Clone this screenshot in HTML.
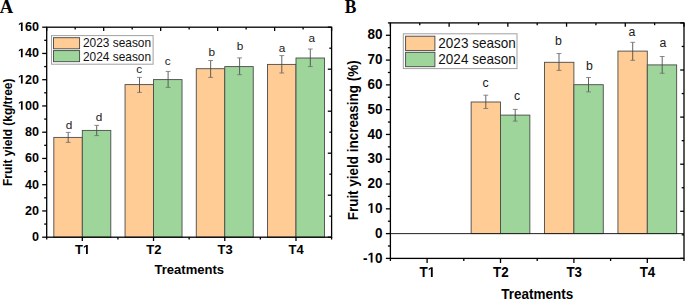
<!DOCTYPE html><html><head><meta charset="utf-8"><style>html,body{margin:0;padding:0;background:#fff;width:685px;height:300px;overflow:hidden}svg{display:block}</style></head><body>
<svg width="685" height="300" viewBox="0 0 685 300">
<rect width="685" height="300" fill="#fff"/>
<rect x="53.82" y="137.4" width="28.49" height="99.8" fill="#FECC94" stroke="#4a4a4a" stroke-width="0.9"/>
<rect x="82.31" y="130.4" width="28.49" height="106.8" fill="#9DD59B" stroke="#4a4a4a" stroke-width="0.9"/>
<rect x="125.05" y="84.6" width="28.49" height="152.6" fill="#FECC94" stroke="#4a4a4a" stroke-width="0.9"/>
<rect x="153.54" y="79.6" width="28.49" height="157.6" fill="#9DD59B" stroke="#4a4a4a" stroke-width="0.9"/>
<rect x="196.27" y="68.7" width="28.49" height="168.5" fill="#FECC94" stroke="#4a4a4a" stroke-width="0.9"/>
<rect x="224.76" y="66.6" width="28.49" height="170.6" fill="#9DD59B" stroke="#4a4a4a" stroke-width="0.9"/>
<rect x="267.5" y="64.4" width="28.49" height="172.8" fill="#FECC94" stroke="#4a4a4a" stroke-width="0.9"/>
<rect x="295.99" y="58" width="28.49" height="179.2" fill="#9DD59B" stroke="#4a4a4a" stroke-width="0.9"/>
<line x1="68.2" y1="132.4" x2="68.2" y2="142.4" stroke="#484848" stroke-width="0.85"/>
<line x1="65.8" y1="132.4" x2="70.6" y2="132.4" stroke="#6e6e6e" stroke-width="0.8"/>
<line x1="65.8" y1="142.4" x2="70.6" y2="142.4" stroke="#6e6e6e" stroke-width="0.8"/>
<line x1="96.7" y1="125.4" x2="96.7" y2="135.6" stroke="#484848" stroke-width="0.85"/>
<line x1="94.3" y1="125.4" x2="99.1" y2="125.4" stroke="#6e6e6e" stroke-width="0.8"/>
<line x1="94.3" y1="135.6" x2="99.1" y2="135.6" stroke="#6e6e6e" stroke-width="0.8"/>
<line x1="139.5" y1="77.4" x2="139.5" y2="92.4" stroke="#484848" stroke-width="0.85"/>
<line x1="137.1" y1="77.4" x2="141.9" y2="77.4" stroke="#6e6e6e" stroke-width="0.8"/>
<line x1="137.1" y1="92.4" x2="141.9" y2="92.4" stroke="#6e6e6e" stroke-width="0.8"/>
<line x1="168.1" y1="71.4" x2="168.1" y2="87.4" stroke="#484848" stroke-width="0.85"/>
<line x1="165.7" y1="71.4" x2="170.5" y2="71.4" stroke="#6e6e6e" stroke-width="0.8"/>
<line x1="165.7" y1="87.4" x2="170.5" y2="87.4" stroke="#6e6e6e" stroke-width="0.8"/>
<line x1="210.65" y1="60.5" x2="210.65" y2="77.4" stroke="#484848" stroke-width="0.85"/>
<line x1="208.25" y1="60.5" x2="213.05" y2="60.5" stroke="#6e6e6e" stroke-width="0.8"/>
<line x1="208.25" y1="77.4" x2="213.05" y2="77.4" stroke="#6e6e6e" stroke-width="0.8"/>
<line x1="239.6" y1="57.9" x2="239.6" y2="74.7" stroke="#484848" stroke-width="0.85"/>
<line x1="237.2" y1="57.9" x2="242" y2="57.9" stroke="#6e6e6e" stroke-width="0.8"/>
<line x1="237.2" y1="74.7" x2="242" y2="74.7" stroke="#6e6e6e" stroke-width="0.8"/>
<line x1="281.8" y1="55.6" x2="281.8" y2="73" stroke="#484848" stroke-width="0.85"/>
<line x1="279.4" y1="55.6" x2="284.2" y2="55.6" stroke="#6e6e6e" stroke-width="0.8"/>
<line x1="279.4" y1="73" x2="284.2" y2="73" stroke="#6e6e6e" stroke-width="0.8"/>
<line x1="310.3" y1="49" x2="310.3" y2="66.6" stroke="#484848" stroke-width="0.85"/>
<line x1="307.9" y1="49" x2="312.7" y2="49" stroke="#6e6e6e" stroke-width="0.8"/>
<line x1="307.9" y1="66.6" x2="312.7" y2="66.6" stroke="#6e6e6e" stroke-width="0.8"/>
<text x="65.65" y="128.9" font-family="Liberation Sans" font-size="11.8" font-weight="normal" fill="#1a1a1a">d</text>
<text x="95.75" y="121" font-family="Liberation Sans" font-size="11.8" font-weight="normal" fill="#1a1a1a">d</text>
<text x="136.16" y="73.1" font-family="Liberation Sans" font-size="11.8" font-weight="normal" fill="#1a1a1a">c</text>
<text x="164.66" y="65.1" font-family="Liberation Sans" font-size="11.8" font-weight="normal" fill="#1a1a1a">c</text>
<text x="208.39" y="55.8" font-family="Liberation Sans" font-size="11.8" font-weight="normal" fill="#1a1a1a">b</text>
<text x="236.69" y="49.8" font-family="Liberation Sans" font-size="11.8" font-weight="normal" fill="#1a1a1a">b</text>
<text x="278.77" y="51.8" font-family="Liberation Sans" font-size="11.8" font-weight="normal" fill="#1a1a1a">a</text>
<text x="308.47" y="42" font-family="Liberation Sans" font-size="11.8" font-weight="normal" fill="#1a1a1a">a</text>
<rect x="46.7" y="27.2" width="284.9" height="210" fill="none" stroke="#000" stroke-width="1.3"/>
<line x1="42.2" y1="237.2" x2="46.7" y2="237.2" stroke="#000" stroke-width="1.3"/>
<text x="32" y="241.05" font-family="Liberation Sans" font-size="12.6" font-weight="bold" fill="#000">0</text>
<line x1="44.2" y1="224.07" x2="46.7" y2="224.07" stroke="#000" stroke-width="1.3"/>
<line x1="42.2" y1="210.95" x2="46.7" y2="210.95" stroke="#000" stroke-width="1.3"/>
<text x="24.99" y="214.8" font-family="Liberation Sans" font-size="12.6" font-weight="bold" fill="#000">20</text>
<line x1="44.2" y1="197.82" x2="46.7" y2="197.82" stroke="#000" stroke-width="1.3"/>
<line x1="42.2" y1="184.7" x2="46.7" y2="184.7" stroke="#000" stroke-width="1.3"/>
<text x="24.99" y="188.55" font-family="Liberation Sans" font-size="12.6" font-weight="bold" fill="#000">40</text>
<line x1="44.2" y1="171.57" x2="46.7" y2="171.57" stroke="#000" stroke-width="1.3"/>
<line x1="42.2" y1="158.45" x2="46.7" y2="158.45" stroke="#000" stroke-width="1.3"/>
<text x="24.99" y="162.3" font-family="Liberation Sans" font-size="12.6" font-weight="bold" fill="#000">60</text>
<line x1="44.2" y1="145.32" x2="46.7" y2="145.32" stroke="#000" stroke-width="1.3"/>
<line x1="42.2" y1="132.2" x2="46.7" y2="132.2" stroke="#000" stroke-width="1.3"/>
<text x="24.99" y="136.05" font-family="Liberation Sans" font-size="12.6" font-weight="bold" fill="#000">80</text>
<line x1="44.2" y1="119.07" x2="46.7" y2="119.07" stroke="#000" stroke-width="1.3"/>
<line x1="42.2" y1="105.95" x2="46.7" y2="105.95" stroke="#000" stroke-width="1.3"/>
<path transform="translate(17.99,109.8) scale(0.00615,-0.00615)" d="M478 0L478 1170L140 959L140 1180L493 1409L759 1409L759 0Z" fill="#000"/>
<text x="17.99" y="109.8" font-family="Liberation Sans" font-size="12.6" font-weight="bold" fill="#000">&#8199;00</text>
<line x1="44.2" y1="92.82" x2="46.7" y2="92.82" stroke="#000" stroke-width="1.3"/>
<line x1="42.2" y1="79.7" x2="46.7" y2="79.7" stroke="#000" stroke-width="1.3"/>
<path transform="translate(17.99,83.55) scale(0.00615,-0.00615)" d="M478 0L478 1170L140 959L140 1180L493 1409L759 1409L759 0Z" fill="#000"/>
<text x="17.99" y="83.55" font-family="Liberation Sans" font-size="12.6" font-weight="bold" fill="#000">&#8199;20</text>
<line x1="44.2" y1="66.57" x2="46.7" y2="66.57" stroke="#000" stroke-width="1.3"/>
<line x1="42.2" y1="53.45" x2="46.7" y2="53.45" stroke="#000" stroke-width="1.3"/>
<path transform="translate(17.99,57.3) scale(0.00615,-0.00615)" d="M478 0L478 1170L140 959L140 1180L493 1409L759 1409L759 0Z" fill="#000"/>
<text x="17.99" y="57.3" font-family="Liberation Sans" font-size="12.6" font-weight="bold" fill="#000">&#8199;40</text>
<line x1="44.2" y1="40.32" x2="46.7" y2="40.32" stroke="#000" stroke-width="1.3"/>
<line x1="42.2" y1="27.2" x2="46.7" y2="27.2" stroke="#000" stroke-width="1.3"/>
<path transform="translate(17.99,31.05) scale(0.00615,-0.00615)" d="M478 0L478 1170L140 959L140 1180L493 1409L759 1409L759 0Z" fill="#000"/>
<text x="17.99" y="31.05" font-family="Liberation Sans" font-size="12.6" font-weight="bold" fill="#000">&#8199;60</text>
<line x1="82.31" y1="237.2" x2="82.31" y2="241" stroke="#000" stroke-width="1.3"/>
<path transform="translate(82.98,254) scale(0.00635,-0.00635)" d="M478 0L478 1170L140 959L140 1180L493 1409L759 1409L759 0Z" fill="#000"/>
<text x="75.04" y="254" font-family="Liberation Sans" font-size="13" font-weight="bold" fill="#000">T&#8199;</text>
<line x1="153.54" y1="237.2" x2="153.54" y2="241" stroke="#000" stroke-width="1.3"/>
<text x="146.34" y="254" font-family="Liberation Sans" font-size="13" font-weight="bold" fill="#000">T2</text>
<line x1="224.76" y1="237.2" x2="224.76" y2="241" stroke="#000" stroke-width="1.3"/>
<text x="217.54" y="254" font-family="Liberation Sans" font-size="13" font-weight="bold" fill="#000">T3</text>
<line x1="295.99" y1="237.2" x2="295.99" y2="241" stroke="#000" stroke-width="1.3"/>
<text x="288.57" y="254" font-family="Liberation Sans" font-size="13" font-weight="bold" fill="#000">T4</text>
<line x1="46.7" y1="237.2" x2="46.7" y2="239.5" stroke="#000" stroke-width="1.3"/>
<line x1="117.93" y1="237.2" x2="117.93" y2="239.5" stroke="#000" stroke-width="1.3"/>
<line x1="189.15" y1="237.2" x2="189.15" y2="239.5" stroke="#000" stroke-width="1.3"/>
<line x1="260.38" y1="237.2" x2="260.38" y2="239.5" stroke="#000" stroke-width="1.3"/>
<line x1="331.6" y1="237.2" x2="331.6" y2="239.5" stroke="#000" stroke-width="1.3"/>
<line x1="46.7" y1="27.2" x2="46.7" y2="31" stroke="#000" stroke-width="1.3"/>
<line x1="75.19" y1="27.2" x2="75.19" y2="29.5" stroke="#000" stroke-width="1.3"/>
<line x1="103.68" y1="27.2" x2="103.68" y2="31" stroke="#000" stroke-width="1.3"/>
<line x1="132.17" y1="27.2" x2="132.17" y2="29.5" stroke="#000" stroke-width="1.3"/>
<line x1="160.66" y1="27.2" x2="160.66" y2="31" stroke="#000" stroke-width="1.3"/>
<line x1="189.15" y1="27.2" x2="189.15" y2="29.5" stroke="#000" stroke-width="1.3"/>
<line x1="217.64" y1="27.2" x2="217.64" y2="31" stroke="#000" stroke-width="1.3"/>
<line x1="246.13" y1="27.2" x2="246.13" y2="29.5" stroke="#000" stroke-width="1.3"/>
<line x1="274.62" y1="27.2" x2="274.62" y2="31" stroke="#000" stroke-width="1.3"/>
<line x1="303.11" y1="27.2" x2="303.11" y2="29.5" stroke="#000" stroke-width="1.3"/>
<line x1="331.6" y1="27.2" x2="331.6" y2="31" stroke="#000" stroke-width="1.3"/>
<line x1="327.8" y1="27.2" x2="331.6" y2="27.2" stroke="#000" stroke-width="1.3"/>
<line x1="329.3" y1="48.2" x2="331.6" y2="48.2" stroke="#000" stroke-width="1.3"/>
<line x1="327.8" y1="69.2" x2="331.6" y2="69.2" stroke="#000" stroke-width="1.3"/>
<line x1="329.3" y1="90.2" x2="331.6" y2="90.2" stroke="#000" stroke-width="1.3"/>
<line x1="327.8" y1="111.2" x2="331.6" y2="111.2" stroke="#000" stroke-width="1.3"/>
<line x1="329.3" y1="132.2" x2="331.6" y2="132.2" stroke="#000" stroke-width="1.3"/>
<line x1="327.8" y1="153.2" x2="331.6" y2="153.2" stroke="#000" stroke-width="1.3"/>
<line x1="329.3" y1="174.2" x2="331.6" y2="174.2" stroke="#000" stroke-width="1.3"/>
<line x1="327.8" y1="195.2" x2="331.6" y2="195.2" stroke="#000" stroke-width="1.3"/>
<line x1="329.3" y1="216.2" x2="331.6" y2="216.2" stroke="#000" stroke-width="1.3"/>
<line x1="327.8" y1="237.2" x2="331.6" y2="237.2" stroke="#000" stroke-width="1.3"/>
<text x="154.54" y="273.7" font-family="Liberation Sans" font-size="13" font-weight="bold" fill="#000" textLength="69.57" lengthAdjust="spacingAndGlyphs">Treatments</text>
<text transform="translate(12.2,185.99) rotate(-90)" x="0" y="0" font-family="Liberation Sans" font-size="13.1" font-weight="bold" textLength="107.38" lengthAdjust="spacingAndGlyphs">Fruit yield (kg/tree)</text>
<rect x="51.5" y="35.6" width="101.6" height="28.6" fill="#fff" stroke="#a0a0a0" stroke-width="1"/>
<rect x="53.5" y="37.7" width="26.1" height="11.1" fill="#FECC94" stroke="#444" stroke-width="0.9"/>
<text x="83" y="47" font-family="Liberation Sans" font-size="11.9" font-weight="normal" fill="#111">2023 season</text>
<rect x="53.5" y="50.6" width="26.1" height="11.1" fill="#9DD59B" stroke="#444" stroke-width="0.9"/>
<text x="83" y="60.5" font-family="Liberation Sans" font-size="11.9" font-weight="normal" fill="#111">2024 season</text>
<rect x="471.14" y="102" width="29.36" height="131.61" fill="#FECC94" stroke="#4a4a4a" stroke-width="0.9"/>
<rect x="500.5" y="115.1" width="29.36" height="118.51" fill="#9DD59B" stroke="#4a4a4a" stroke-width="0.9"/>
<rect x="544.54" y="62.3" width="29.36" height="171.31" fill="#FECC94" stroke="#4a4a4a" stroke-width="0.9"/>
<rect x="573.9" y="84.7" width="29.36" height="148.91" fill="#9DD59B" stroke="#4a4a4a" stroke-width="0.9"/>
<rect x="617.94" y="51.1" width="29.36" height="182.51" fill="#FECC94" stroke="#4a4a4a" stroke-width="0.9"/>
<rect x="647.3" y="64.9" width="29.36" height="168.71" fill="#9DD59B" stroke="#4a4a4a" stroke-width="0.9"/>
<line x1="485.8" y1="95.2" x2="485.8" y2="108.5" stroke="#484848" stroke-width="0.85"/>
<line x1="483.4" y1="95.2" x2="488.2" y2="95.2" stroke="#6e6e6e" stroke-width="0.8"/>
<line x1="483.4" y1="108.5" x2="488.2" y2="108.5" stroke="#6e6e6e" stroke-width="0.8"/>
<line x1="515.2" y1="109.4" x2="515.2" y2="121.1" stroke="#484848" stroke-width="0.85"/>
<line x1="512.8" y1="109.4" x2="517.6" y2="109.4" stroke="#6e6e6e" stroke-width="0.8"/>
<line x1="512.8" y1="121.1" x2="517.6" y2="121.1" stroke="#6e6e6e" stroke-width="0.8"/>
<line x1="559" y1="53.5" x2="559" y2="70.4" stroke="#484848" stroke-width="0.85"/>
<line x1="556.6" y1="53.5" x2="561.4" y2="53.5" stroke="#6e6e6e" stroke-width="0.8"/>
<line x1="556.6" y1="70.4" x2="561.4" y2="70.4" stroke="#6e6e6e" stroke-width="0.8"/>
<line x1="588.5" y1="77.5" x2="588.5" y2="91.9" stroke="#484848" stroke-width="0.85"/>
<line x1="586.1" y1="77.5" x2="590.9" y2="77.5" stroke="#6e6e6e" stroke-width="0.8"/>
<line x1="586.1" y1="91.9" x2="590.9" y2="91.9" stroke="#6e6e6e" stroke-width="0.8"/>
<line x1="632.7" y1="42.3" x2="632.7" y2="60.3" stroke="#484848" stroke-width="0.85"/>
<line x1="630.3" y1="42.3" x2="635.1" y2="42.3" stroke="#6e6e6e" stroke-width="0.8"/>
<line x1="630.3" y1="60.3" x2="635.1" y2="60.3" stroke="#6e6e6e" stroke-width="0.8"/>
<line x1="662.2" y1="56.5" x2="662.2" y2="73.3" stroke="#484848" stroke-width="0.85"/>
<line x1="659.8" y1="56.5" x2="664.6" y2="56.5" stroke="#6e6e6e" stroke-width="0.8"/>
<line x1="659.8" y1="73.3" x2="664.6" y2="73.3" stroke="#6e6e6e" stroke-width="0.8"/>
<text x="482.43" y="87" font-family="Liberation Sans" font-size="12.3" font-weight="normal" fill="#1a1a1a">c</text>
<text x="513.93" y="99.9" font-family="Liberation Sans" font-size="12.3" font-weight="normal" fill="#1a1a1a">c</text>
<text x="555.05" y="44.8" font-family="Liberation Sans" font-size="12.3" font-weight="normal" fill="#1a1a1a">b</text>
<text x="586.05" y="69.6" font-family="Liberation Sans" font-size="12.3" font-weight="normal" fill="#1a1a1a">b</text>
<text x="628.42" y="35.8" font-family="Liberation Sans" font-size="12.3" font-weight="normal" fill="#1a1a1a">a</text>
<text x="659.62" y="46.5" font-family="Liberation Sans" font-size="12.3" font-weight="normal" fill="#1a1a1a">a</text>
<line x1="390.4" y1="233.61" x2="684" y2="233.61" stroke="#222" stroke-width="1"/>
<rect x="390.4" y="22.9" width="293.6" height="235.5" fill="none" stroke="#000" stroke-width="1.3"/>
<line x1="385.9" y1="258.4" x2="390.4" y2="258.4" stroke="#000" stroke-width="1.3"/>
<path transform="translate(367.53,262.5) scale(0.00659,-0.00693)" d="M478 0L478 1170L140 959L140 1180L493 1409L759 1409L759 0Z" fill="#000"/>
<text x="363.03" y="262.5" font-family="Liberation Sans" font-size="14.2" font-weight="bold" fill="#000" textLength="19.5" lengthAdjust="spacingAndGlyphs">-&#8199;0</text>
<line x1="387.9" y1="246.01" x2="390.4" y2="246.01" stroke="#000" stroke-width="1.3"/>
<line x1="385.9" y1="233.61" x2="390.4" y2="233.61" stroke="#000" stroke-width="1.3"/>
<text x="375.04" y="237.71" font-family="Liberation Sans" font-size="14.2" font-weight="bold" fill="#000" textLength="7.5" lengthAdjust="spacingAndGlyphs">0</text>
<line x1="387.9" y1="221.22" x2="390.4" y2="221.22" stroke="#000" stroke-width="1.3"/>
<line x1="385.9" y1="208.82" x2="390.4" y2="208.82" stroke="#000" stroke-width="1.3"/>
<path transform="translate(367.54,212.92) scale(0.00659,-0.00693)" d="M478 0L478 1170L140 959L140 1180L493 1409L759 1409L759 0Z" fill="#000"/>
<text x="367.54" y="212.92" font-family="Liberation Sans" font-size="14.2" font-weight="bold" fill="#000" textLength="15.01" lengthAdjust="spacingAndGlyphs">&#8199;0</text>
<line x1="387.9" y1="196.43" x2="390.4" y2="196.43" stroke="#000" stroke-width="1.3"/>
<line x1="385.9" y1="184.03" x2="390.4" y2="184.03" stroke="#000" stroke-width="1.3"/>
<text x="367.54" y="188.13" font-family="Liberation Sans" font-size="14.2" font-weight="bold" fill="#000" textLength="15.01" lengthAdjust="spacingAndGlyphs">20</text>
<line x1="387.9" y1="171.64" x2="390.4" y2="171.64" stroke="#000" stroke-width="1.3"/>
<line x1="385.9" y1="159.24" x2="390.4" y2="159.24" stroke="#000" stroke-width="1.3"/>
<text x="367.54" y="163.34" font-family="Liberation Sans" font-size="14.2" font-weight="bold" fill="#000" textLength="15.01" lengthAdjust="spacingAndGlyphs">30</text>
<line x1="387.9" y1="146.85" x2="390.4" y2="146.85" stroke="#000" stroke-width="1.3"/>
<line x1="385.9" y1="134.45" x2="390.4" y2="134.45" stroke="#000" stroke-width="1.3"/>
<text x="367.54" y="138.55" font-family="Liberation Sans" font-size="14.2" font-weight="bold" fill="#000" textLength="15.01" lengthAdjust="spacingAndGlyphs">40</text>
<line x1="387.9" y1="122.06" x2="390.4" y2="122.06" stroke="#000" stroke-width="1.3"/>
<line x1="385.9" y1="109.66" x2="390.4" y2="109.66" stroke="#000" stroke-width="1.3"/>
<text x="367.54" y="113.76" font-family="Liberation Sans" font-size="14.2" font-weight="bold" fill="#000" textLength="15.01" lengthAdjust="spacingAndGlyphs">50</text>
<line x1="387.9" y1="97.27" x2="390.4" y2="97.27" stroke="#000" stroke-width="1.3"/>
<line x1="385.9" y1="84.87" x2="390.4" y2="84.87" stroke="#000" stroke-width="1.3"/>
<text x="367.54" y="88.97" font-family="Liberation Sans" font-size="14.2" font-weight="bold" fill="#000" textLength="15.01" lengthAdjust="spacingAndGlyphs">60</text>
<line x1="387.9" y1="72.48" x2="390.4" y2="72.48" stroke="#000" stroke-width="1.3"/>
<line x1="385.9" y1="60.08" x2="390.4" y2="60.08" stroke="#000" stroke-width="1.3"/>
<text x="367.54" y="64.18" font-family="Liberation Sans" font-size="14.2" font-weight="bold" fill="#000" textLength="15.01" lengthAdjust="spacingAndGlyphs">70</text>
<line x1="387.9" y1="47.69" x2="390.4" y2="47.69" stroke="#000" stroke-width="1.3"/>
<line x1="385.9" y1="35.29" x2="390.4" y2="35.29" stroke="#000" stroke-width="1.3"/>
<text x="367.54" y="39.39" font-family="Liberation Sans" font-size="14.2" font-weight="bold" fill="#000" textLength="15.01" lengthAdjust="spacingAndGlyphs">80</text>
<line x1="387.9" y1="22.9" x2="390.4" y2="22.9" stroke="#000" stroke-width="1.3"/>
<line x1="427.1" y1="258.4" x2="427.1" y2="263" stroke="#000" stroke-width="1.3"/>
<path transform="translate(427.78,276.9) scale(0.00652,-0.00693)" d="M478 0L478 1170L140 959L140 1180L493 1409L759 1409L759 0Z" fill="#000"/>
<text x="419.62" y="276.9" font-family="Liberation Sans" font-size="14.2" font-weight="bold" fill="#000" textLength="15.58" lengthAdjust="spacingAndGlyphs">T&#8199;</text>
<line x1="500.5" y1="258.4" x2="500.5" y2="263" stroke="#000" stroke-width="1.3"/>
<text x="493.1" y="276.9" font-family="Liberation Sans" font-size="14.2" font-weight="bold" fill="#000" textLength="15.58" lengthAdjust="spacingAndGlyphs">T2</text>
<line x1="573.9" y1="258.4" x2="573.9" y2="263" stroke="#000" stroke-width="1.3"/>
<text x="566.48" y="276.9" font-family="Liberation Sans" font-size="14.2" font-weight="bold" fill="#000" textLength="15.58" lengthAdjust="spacingAndGlyphs">T3</text>
<line x1="647.3" y1="258.4" x2="647.3" y2="263" stroke="#000" stroke-width="1.3"/>
<text x="639.68" y="276.9" font-family="Liberation Sans" font-size="14.2" font-weight="bold" fill="#000" textLength="15.58" lengthAdjust="spacingAndGlyphs">T4</text>
<line x1="390.4" y1="258.4" x2="390.4" y2="261" stroke="#000" stroke-width="1.3"/>
<line x1="463.8" y1="258.4" x2="463.8" y2="261" stroke="#000" stroke-width="1.3"/>
<line x1="537.2" y1="258.4" x2="537.2" y2="261" stroke="#000" stroke-width="1.3"/>
<line x1="610.6" y1="258.4" x2="610.6" y2="261" stroke="#000" stroke-width="1.3"/>
<line x1="684" y1="258.4" x2="684" y2="261" stroke="#000" stroke-width="1.3"/>
<line x1="390.4" y1="22.9" x2="390.4" y2="26.7" stroke="#000" stroke-width="1.3"/>
<line x1="419.76" y1="22.9" x2="419.76" y2="25.2" stroke="#000" stroke-width="1.3"/>
<line x1="449.12" y1="22.9" x2="449.12" y2="26.7" stroke="#000" stroke-width="1.3"/>
<line x1="478.48" y1="22.9" x2="478.48" y2="25.2" stroke="#000" stroke-width="1.3"/>
<line x1="507.84" y1="22.9" x2="507.84" y2="26.7" stroke="#000" stroke-width="1.3"/>
<line x1="537.2" y1="22.9" x2="537.2" y2="25.2" stroke="#000" stroke-width="1.3"/>
<line x1="566.56" y1="22.9" x2="566.56" y2="26.7" stroke="#000" stroke-width="1.3"/>
<line x1="595.92" y1="22.9" x2="595.92" y2="25.2" stroke="#000" stroke-width="1.3"/>
<line x1="625.28" y1="22.9" x2="625.28" y2="26.7" stroke="#000" stroke-width="1.3"/>
<line x1="654.64" y1="22.9" x2="654.64" y2="25.2" stroke="#000" stroke-width="1.3"/>
<line x1="684" y1="22.9" x2="684" y2="26.7" stroke="#000" stroke-width="1.3"/>
<line x1="680.2" y1="22.9" x2="684" y2="22.9" stroke="#000" stroke-width="1.3"/>
<line x1="681.7" y1="46.45" x2="684" y2="46.45" stroke="#000" stroke-width="1.3"/>
<line x1="680.2" y1="70" x2="684" y2="70" stroke="#000" stroke-width="1.3"/>
<line x1="681.7" y1="93.55" x2="684" y2="93.55" stroke="#000" stroke-width="1.3"/>
<line x1="680.2" y1="117.1" x2="684" y2="117.1" stroke="#000" stroke-width="1.3"/>
<line x1="681.7" y1="140.65" x2="684" y2="140.65" stroke="#000" stroke-width="1.3"/>
<line x1="680.2" y1="164.2" x2="684" y2="164.2" stroke="#000" stroke-width="1.3"/>
<line x1="681.7" y1="187.75" x2="684" y2="187.75" stroke="#000" stroke-width="1.3"/>
<line x1="680.2" y1="211.3" x2="684" y2="211.3" stroke="#000" stroke-width="1.3"/>
<line x1="681.7" y1="234.85" x2="684" y2="234.85" stroke="#000" stroke-width="1.3"/>
<line x1="680.2" y1="258.4" x2="684" y2="258.4" stroke="#000" stroke-width="1.3"/>
<text x="501.34" y="299" font-family="Liberation Sans" font-size="14.1" font-weight="bold" fill="#000" textLength="71.89" lengthAdjust="spacingAndGlyphs">Treatments</text>
<text transform="translate(357.6,220.29) rotate(-90)" x="0" y="0" font-family="Liberation Sans" font-size="14.3" font-weight="bold" textLength="159.95" lengthAdjust="spacingAndGlyphs">Fruit yield increasing (%)</text>
<rect x="403.3" y="33.8" width="113.7" height="34.8" fill="#fff" stroke="#a0a0a0" stroke-width="1"/>
<rect x="405.6" y="36.2" width="29.3" height="14.4" fill="#FECC94" stroke="#444" stroke-width="0.9"/>
<text x="438.32" y="47.8" font-family="Liberation Sans" font-size="14.8" font-weight="normal" fill="#111" textLength="77.46" lengthAdjust="spacingAndGlyphs">2023 season</text>
<rect x="405.6" y="52.3" width="29.3" height="14.4" fill="#9DD59B" stroke="#444" stroke-width="0.9"/>
<text x="438.32" y="64" font-family="Liberation Sans" font-size="14.8" font-weight="normal" fill="#111" textLength="77.46" lengthAdjust="spacingAndGlyphs">2024 season</text>
<text x="-0.19" y="12.8" font-family="Liberation Serif" font-size="19" font-weight="bold" fill="#000" textLength="13.41" lengthAdjust="spacingAndGlyphs">A</text>
<text x="344.82" y="12.8" font-family="Liberation Serif" font-size="19" font-weight="bold" fill="#000" textLength="11.65" lengthAdjust="spacingAndGlyphs">B</text>
</svg></body></html>
